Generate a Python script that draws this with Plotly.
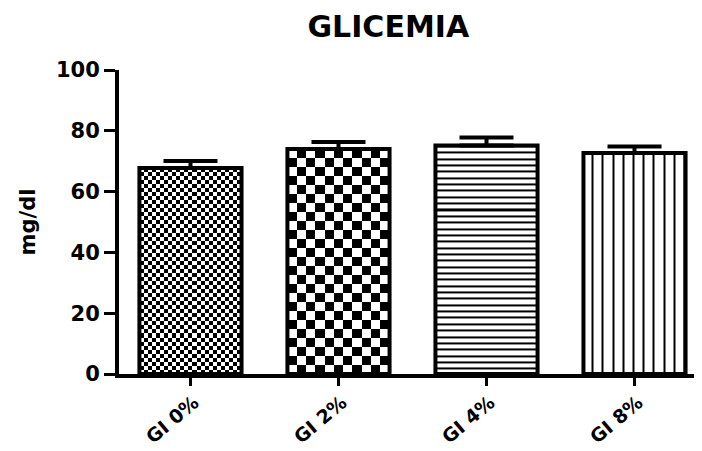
import numpy as np
import plotly.graph_objects as go

categories = ["GI 0%", "GI 2%", "GI 4%", "GI 8%"]
means = [67.8, 74.0, 75.2, 72.7]
sems = [2.3, 2.3, 2.6, 2.1]
y_ticks = [0, 20, 40, 60, 80, 100]

FONT = "DejaVu Sans"
BAR_W = 0.69
xpos = list(range(len(categories)))
BW = [[0, "white"], [1, "black"]]

fig = go.Figure()


def add_fill(xe, ye, z):
    fig.add_trace(go.Heatmap(
        x=xe, y=ye, z=z, zmin=0, zmax=1, colorscale=BW,
        showscale=False, hoverinfo="skip", zsmooth=False,
    ))


def stripe_edges(start, length, n, dark):
    p = length / n
    edges = []
    for k in range(n):
        edges += [start + k * p, start + k * p + p * (1 - dark)]
    edges.append(start + length)
    return edges


# checkerboard fills for the first two bars (fine and coarse)
for i, (nx, ny) in {0: (25, 51), 1: (11, 25)}.items():
    xe = np.linspace(xpos[i] - BAR_W / 2, xpos[i] + BAR_W / 2, nx + 1)
    ye = np.linspace(0, means[i], ny + 1)
    z = (np.add.outer(np.arange(ny), np.arange(nx)) % 2).astype(float)
    add_fill(xe, ye, z)

# horizontal stripes (GI 4%)
i = 2
ye = stripe_edges(0, means[i], 36, 0.32)
z = [[float(j % 2)] for j in range(len(ye) - 1)]
add_fill([xpos[i] - BAR_W / 2, xpos[i] + BAR_W / 2], ye, z)

# vertical stripes (GI 8%)
i = 3
xe = stripe_edges(xpos[i] - BAR_W / 2, BAR_W, 10, 0.2)
z = [[float(j % 2) for j in range(len(xe) - 1)]]
add_fill(xe, [0, means[i]], z)

fig.add_trace(go.Bar(
    x=xpos, y=means, width=BAR_W,
    marker=dict(color="rgba(0,0,0,0)", line=dict(color="black", width=4)),
    error_y=dict(type="data", symmetric=False, array=sems,
                 arrayminus=[0] * len(sems), color="black",
                 thickness=4, width=27),
    showlegend=False,
))

# category labels, rotated, placed under each tick
for xi, cat in zip(xpos, categories):
    fig.add_annotation(
        x=xi, y=0, xref="x", yref="paper", text=f"<b>{cat}</b>",
        showarrow=False, textangle=-40, xanchor="right", yanchor="top",
        xshift=14, yshift=-15, borderpad=0,
        font=dict(family=FONT, size=19, color="black"),
    )

# the page body has an 8px margin, so the figure is laid out 8px smaller
fig.update_layout(
    width=694, height=443,
    margin=dict(l=111, r=0, t=62, b=77),
    paper_bgcolor="white", plot_bgcolor="white",
    title=dict(text="<b>GLICEMIA</b>", x=0.548, xref="container",
               xanchor="center", y=0.959, yref="container", yanchor="middle",
               font=dict(family=FONT, size=30, color="black")),
    font=dict(family=FONT, color="black"),
    xaxis=dict(
        range=[-0.483, 3.456], tickvals=xpos, showticklabels=False,
        showline=True, linewidth=4, linecolor="black",
        ticks="outside", ticklen=8, tickwidth=3, tickcolor="black",
        showgrid=False, zeroline=False, automargin=False,
    ),
    yaxis=dict(
        range=[0, 100], tickvals=y_ticks,
        ticktext=[f"<b>{t}</b>" for t in y_ticks],
        tickfont=dict(size=21, family=FONT),
        showline=True, linewidth=4, linecolor="black",
        ticks="outside", ticklen=11, tickwidth=3, tickcolor="black",
        showgrid=False, zeroline=False, automargin=False,
        title=dict(text="<b>mg/dl</b>", font=dict(size=21, family=FONT),
                   standoff=16),
    ),
)

fig.write_html("out.html")
